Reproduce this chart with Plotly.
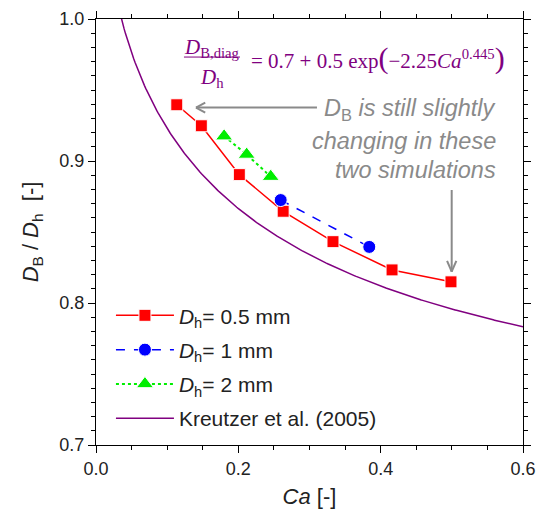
import numpy as np
import plotly.graph_objects as go

# Bubble diameter ratio from simulations, grouped by hydraulic diameter
ca_05 = [0.1135, 0.148, 0.2014, 0.263, 0.333, 0.416, 0.4988]
db_05 = [0.9396, 0.9248, 0.8904, 0.8646, 0.8432, 0.8233, 0.8149]

ca_1 = [0.2595, 0.384]
db_1 = [0.8725, 0.8395]

ca_2 = [0.180, 0.2117, 0.2455]
db_2 = [0.9175, 0.9046, 0.889]

# Kreutzer et al. (2005) correlation: D_B,diag/D_h = A + B*exp(-C*Ca^n)
kr_a, kr_b, kr_c, kr_n = 0.7, 0.5, 2.25, 0.445
ca_kr = np.linspace(0.03, 0.6, 300)
db_kr = kr_a + kr_b * np.exp(-kr_c * ca_kr ** kr_n)

SANS = "Arial, Liberation Sans, sans-serif"
SERIF = "Liberation Serif, Times New Roman, serif"
PURPLE = "#800080"
GRAY = "#8a8a8a"
INK = "#222222"

fig = go.Figure()

fig.add_trace(go.Scatter(
    x=ca_05, y=db_05, mode="lines+markers",
    name="<i>D</i><sub>h</sub>= 0.5 mm", legendgroup="a",
    line=dict(color="#ff0000", width=1.5),
    marker=dict(symbol="square", size=12, color="#ff0000",
                line=dict(color="white", width=1)),
))
fig.add_trace(go.Scatter(
    x=ca_1, y=db_1, mode="lines+markers",
    name="<i>D</i><sub>h</sub>= 1 mm", legendgroup="b",
    line=dict(color="#0000ff", width=1.5, dash="dash"),
    marker=dict(symbol="circle", size=13, color="#0000ff",
                line=dict(color="white", width=1)),
))
fig.add_trace(go.Scatter(
    x=ca_2, y=db_2, mode="lines+markers",
    name="<i>D</i><sub>h</sub>= 2 mm", legendgroup="c",
    line=dict(color="#00ee00", width=2, dash="dot"),
    marker=dict(symbol="triangle-up", size=15, color="#00ee00",
                line=dict(color="white", width=1)),
))
fig.add_trace(go.Scatter(
    x=ca_kr, y=db_kr, mode="lines",
    name="Kreutzer et al. (2005)", legendgroup="d",
    line=dict(color=PURPLE, width=1.5),
))

axis_common = dict(
    showgrid=False, zeroline=False, showline=True, linecolor="black",
    linewidth=1.3, mirror="ticks", ticks="outside", ticklen=7,
    tickwidth=1.2, tickcolor="black", automargin=False,
    tickfont=dict(family=SANS, size=18, color=INK),
)

fig.update_xaxes(
    range=[0, 0.6], tickmode="linear", tick0=0, dtick=0.2, tickformat=".1f",
    minor=dict(dtick=0.05, ticklen=4, tickwidth=1, tickcolor="black",
               ticks="outside", showgrid=False),
    title=dict(text="<i>Ca</i> [-]",
               font=dict(family=SANS, size=22, color=INK), standoff=10),
    **axis_common,
)
fig.update_yaxes(
    range=[0.7, 1.0], tickmode="linear", tick0=0.7, dtick=0.1, tickformat=".1f",
    minor=dict(dtick=0.01, ticklen=4, tickwidth=1, tickcolor="black",
               ticks="outside", showgrid=False),
    title=dict(text="<i>D</i><sub>B</sub> / <i>D</i><sub>h</sub>  [-]",
               font=dict(family=SANS, size=22, color=INK), standoff=14),
    **axis_common,
)

# Correlation written as a fraction
eq_font = dict(family=SERIF, size=21, color=PURPLE)
fig.add_annotation(x=0.1626, y=0.9796, xref="x", yref="y", showarrow=False,
                   text="<i>D</i><sub>B,diag</sub>", font=eq_font)
fig.add_annotation(x=0.1626, y=0.9585, xref="x", yref="y", showarrow=False,
                   text="<i>D</i><sub>h</sub>", font=eq_font)
fig.add_shape(type="line", xref="x", yref="y", x0=0.1236, x1=0.2023,
              y0=0.9732, y1=0.9732, line=dict(color=PURPLE, width=1))
fig.add_annotation(
    x=0.215, y=0.9725, xref="x", yref="y", showarrow=False,
    xanchor="left",
    text=("= 0.7 + 0.5 exp<span style='font-size:30px'>(</span>"
          "\u22122.25<i>Ca</i><sup>0.445</sup>"
          "<span style='font-size:30px'>)</span>"),
    font=eq_font,
)

# Note about the two unconverged simulations
note_font = dict(family=SANS, size=23.5, color=GRAY)
note_lines = [
    (0.9365, "<i>D</i><sub>B</sub><i> is still slightly</i>"),
    (0.9142, "<i>changing in these</i>"),
    (0.8937, "<i>two simulations</i>"),
]
for yy, txt in note_lines:
    fig.add_annotation(x=0.5648, y=yy, xref="x", yref="y", showarrow=False,
                       xanchor="right", text=txt, font=note_font)

# Pointer arrows with open heads
arrow = dict(color=GRAY, width=2)
fig.add_shape(type="line", xref="x", yref="y", x0=0.3105, x1=0.1405,
              y0=0.9376, y1=0.9376, line=arrow)
fig.add_shape(type="line", xref="x", yref="y", x0=0.1405, x1=0.1535,
              y0=0.9376, y1=0.9411, line=arrow)
fig.add_shape(type="line", xref="x", yref="y", x0=0.1405, x1=0.1535,
              y0=0.9376, y1=0.9341, line=arrow)
fig.add_shape(type="line", xref="x", yref="y", x0=0.4998, x1=0.4998,
              y0=0.8796, y1=0.8221, line=arrow)
fig.add_shape(type="line", xref="x", yref="y", x0=0.4998, x1=0.4933,
              y0=0.8221, y1=0.8296, line=arrow)
fig.add_shape(type="line", xref="x", yref="y", x0=0.4998, x1=0.5063,
              y0=0.8221, y1=0.8296, line=arrow)

fig.update_layout(
    width=537, height=513,
    margin=dict(l=96, r=14, t=19, b=68),
    plot_bgcolor="white", paper_bgcolor="white",
    legend=dict(
        x=0.035, y=0.3517, xanchor="left", yanchor="top",
        bgcolor="rgba(0,0,0,0)", traceorder="grouped", tracegroupgap=4,
        itemwidth=58,
        font=dict(family=SANS, size=21, color=INK),
    ),
)

fig.write_html("out.html")
